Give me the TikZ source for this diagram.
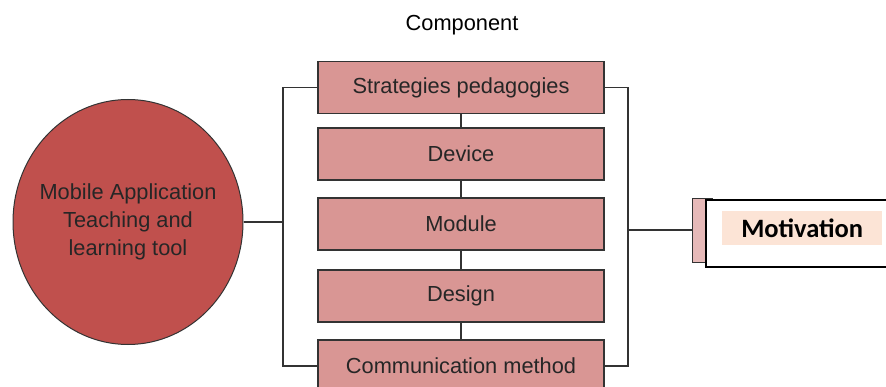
\documentclass[tikz,border=0pt]{standalone}
\usepackage{fontspec}
\setmainfont{Liberation Sans}
\newfontfamily\calibrifont{Carlito}
\usetikzlibrary{shapes.geometric}
\definecolor{hubred}{HTML}{C0504D}
\definecolor{boxpink}{HTML}{D99694}
\definecolor{tabpink}{HTML}{E6B9B8}
\definecolor{peach}{HTML}{FCE4D6}
\definecolor{edgegray}{HTML}{333333}
\tikzset{
  compbox/.style={draw=edgegray, line width=1.2pt, fill=boxpink,
    minimum width=286pt, minimum height=52pt, inner sep=0pt,
    font=\fontsize{21.8}{24}\selectfont, text=black!85},
  link/.style={draw=edgegray, line width=1.2pt},
}
\begin{document}
\begin{tikzpicture}[x=1pt, y=-1pt]
\useasboundingbox (0,0) rectangle (886,387);

% title
\node[font=\fontsize{21.8}{24}\selectfont] (title) at (462,25) {Component};

% hub
\node[ellipse, draw=black!80, line width=1pt, fill=hubred,
  minimum width=230pt, minimum height=245pt, inner sep=0pt] (hub) at (128,222) {};
\node[align=center, font=\fontsize{21.8}{28}\selectfont, text=black!85]
  (hubtext) at (hub.center) {Mobile Application\\Teaching and\\learning tool};

% components
\node[compbox] (c1) at (461,87.5) {Strategies pedagogies};
\node[compbox] (c2) at (461,154) {Device};
\node[compbox] (c3) at (461,224) {Module};
\node[compbox] (c4) at (461,296) {Design};
\node[compbox] (c5) at (461,366) {Communication method};

% vertical chain
\draw[link] (c1.south) -- (c2.north);
\draw[link] (c2.south) -- (c3.north);
\draw[link] (c3.south) -- (c4.north);
\draw[link] (c4.south) -- (c5.north);

% left bracket
\coordinate (lt) at (283,87.5);
\coordinate (lb) at (283,366);
\draw[link] (c1.west) -- (lt) -- (lb) -- (c5.west);
\draw[link] (hub.east) -- (hub.east -| lt);

% right bracket
\coordinate (rt) at (628,87.5);
\coordinate (rb) at (628,366);
\draw[link] (c1.east) -- (rt) -- (rb) -- (c5.east);

% motivation card
\node[draw=edgegray, line width=1.2pt, fill=tabpink, minimum width=20pt,
  minimum height=64pt, inner sep=0pt, anchor=north west] (tab) at (692,198) {};
\draw[link] (rt |- 0,230) -- (tab.west |- 0,230);
\node[draw=black, line width=2pt, fill=white, minimum width=190pt,
  minimum height=67pt, inner sep=0pt, anchor=north west] (card) at (705,199) {};
\node[fill=peach, minimum width=160pt, minimum height=34pt, inner sep=0pt,
  anchor=north west] (mbg) at (722,211) {};
\node[font=\calibrifont\bfseries\fontsize{26.5}{28}\selectfont] (mot) at (mbg.center) {Motivation};
\end{tikzpicture}
\end{document}
